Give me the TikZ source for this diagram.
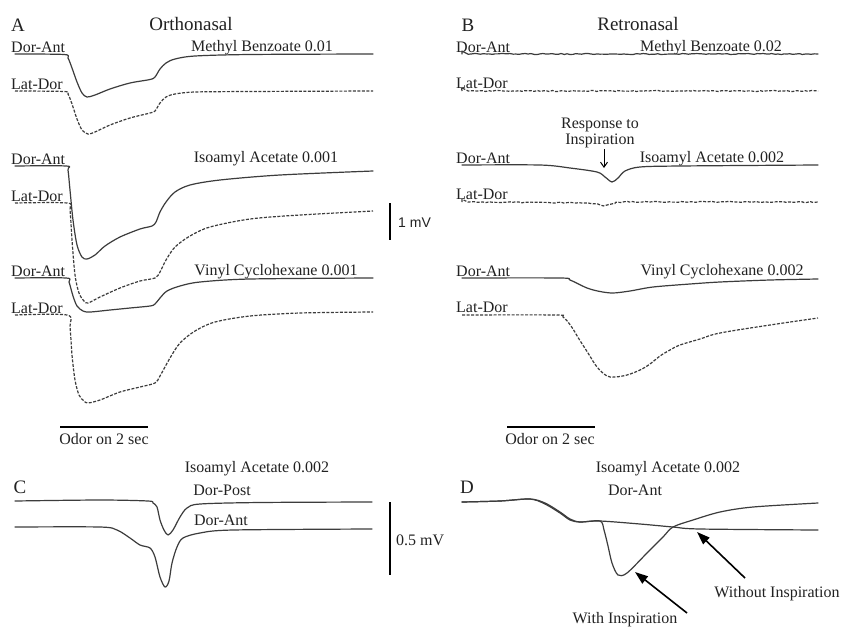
\documentclass[tikz,border=0pt]{standalone}
\usepackage{fontspec}
\setmainfont{Liberation Serif}
\setsansfont{Liberation Sans}
\usetikzlibrary{arrows.meta,decorations.pathmorphing}
\definecolor{tracegray}{HTML}{3C3C3C}
\definecolor{inkgray}{HTML}{222222}
\begin{document}
\begin{tikzpicture}[x=1pt,y=-1pt,
  trace/.style={draw=tracegray,line width=1.2pt,line join=round,line cap=round},
  dtrace/.style={draw=tracegray,line width=1.2pt,line join=round,dash pattern=on 3pt off 1.5pt},
  noisy/.style={decorate,decoration={random steps,segment length=3pt,amplitude=0.5pt}},
  lbl/.style={font=\fontsize{16}{18}\selectfont,text=inkgray,inner sep=0pt},
  ttl/.style={font=\fontsize{19}{22}\selectfont,text=inkgray,inner sep=0pt},
  sbar/.style={draw=black,line width=2pt},
  bigarrow/.style={draw=black,line width=1.6pt,-{Triangle[length=13pt,width=9pt]}},
  smallarrow/.style={draw=black,line width=1pt,-{Straight Barb[length=5pt,width=7pt]}}]
\pgfmathsetseed{7}
\useasboundingbox[fill=white] (0,0) rectangle (843,627);

% ---------- titles ----------
\node[ttl] (labA) at (18,25) {A};
\node[ttl] (titA) at (191,24) {Orthonasal};
\node[ttl] (labB) at (468,25) {B};
\node[ttl] (titB) at (638,24) {Retronasal};

% ---------- panel A labels ----------
\node[lbl,anchor=base west] (a1) at (11,52) {Dor-Ant};
\node[lbl,anchor=base west] (a2) at (11,89) {Lat-Dor};
\node[lbl,anchor=base west] (a3) at (11,164) {Dor-Ant};
\node[lbl,anchor=base west] (a4) at (11,201) {Lat-Dor};
\node[lbl,anchor=base west] (a5) at (11,276) {Dor-Ant};
\node[lbl,anchor=base west] (a6) at (11,313) {Lat-Dor};
\node[lbl,anchor=base] (oa1) at (262,51) {Methyl Benzoate 0.01};
\node[lbl,anchor=base] (oa2) at (266,162) {Isoamyl Acetate 0.001};
\node[lbl,anchor=base] (oa3) at (276,275) {Vinyl Cyclohexane 0.001};

% ---------- panel A traces ----------
\draw[trace] plot[smooth,tension=0.5] coordinates {(15,54) (64,54.5) (68,58) (72,68) (77,82) (82,93) (87,97) (95,95) (110,89) (130,83) (150,79.5) (155,77) (160,69) (166,63) (175,59) (195,56) (250,54.5) (373,54)};
\draw[dtrace] plot[smooth,tension=0.5] coordinates {(15,91) (64,91.5) (68,94) (72,104) (77,119) (82,130) (88,134) (95,132) (110,125) (130,118) (150,113) (155,111) (160,103) (166,97) (175,94) (195,92) (250,91.5) (373,91)};
\draw[trace] plot[smooth,tension=0.5] coordinates {(15,166) (66,166) (68,170) (70,190) (73,220) (77,245) (82,257) (87,259) (95,255) (105,246) (120,237) (140,229) (152,226) (156,222) (160,212) (166,202) (175,192) (190,185) (220,180) (280,175) (373,171)};
\draw[dtrace] plot[smooth,tension=0.5] coordinates {(15,203) (67,203) (70,210) (72,240) (75,275) (79,293) (84,301) (88,303) (100,297) (120,288) (140,281) (155,278) (160,272) (166,260) (175,247) (190,236) (210,227) (250,219) (300,215) (373,211)};
\draw[trace] plot[smooth,tension=0.5] coordinates {(15,278) (66,278) (69,282) (73,296) (77,306) (83,311) (90,312) (110,310) (130,308) (150,306) (155,304) (160,298) (167,291) (180,286) (200,282) (250,279) (373,278)};
\draw[dtrace] plot[smooth,tension=0.5] coordinates {(15,315) (67,315) (70,327) (72,355) (75,380) (79,395) (84,401) (88,403) (100,400) (120,392) (140,387) (155,383) (160,376) (170,358) (180,343) (195,331) (215,322) (250,316) (300,313) (373,312)};

% 1 mV scale bar
\coordinate (mvtop) at (390,203);
\coordinate (mvbot) at (390,240);
\draw[sbar] (mvtop) -- (mvbot);
\node[lbl,font=\sffamily\fontsize{14}{16}\selectfont,anchor=west] (mv1) at (398,223) {1 mV};

% odor bar A
\coordinate (odA1) at (60,427);
\coordinate (odA2) at (148,427);
\draw[draw=black,line width=2.2pt] (odA1) -- (odA2);
\node[lbl,anchor=base] (odAt) at (104,444) {Odor on 2 sec};

% ---------- panel B labels ----------
\node[lbl,anchor=base west] (b1) at (456,52) {Dor-Ant};
\node[lbl,anchor=base west] (b2) at (456,88) {Lat-Dor};
\node[lbl,anchor=base west] (b3) at (456,163) {Dor-Ant};
\node[lbl,anchor=base west] (b4) at (456,199) {Lat-Dor};
\node[lbl,anchor=base west] (b5) at (456,276) {Dor-Ant};
\node[lbl,anchor=base west] (b6) at (456,312) {Lat-Dor};
\node[lbl,anchor=base] (ob1) at (711,51) {Methyl Benzoate 0.02};
\node[lbl,anchor=base] (ob2) at (712,162) {Isoamyl Acetate 0.002};
\node[lbl,anchor=base] (ob3) at (722,275) {Vinyl Cyclohexane 0.002};
\node[lbl,anchor=base] (resp1) at (600,128) {Response to};
\node[lbl,anchor=base] (resp2) at (600,144) {Inspiration};
\coordinate (respfrom) at (604,149);
\coordinate (respto) at (604,168);
\draw[smallarrow] (respfrom) -- (respto);

% ---------- panel B traces ----------
\draw[trace,noisy] plot[smooth] coordinates {(462,54) (640,54) (818,54)};
\draw[dtrace,noisy] plot[smooth] coordinates {(462,91) (640,91) (818,91)};
\draw[trace] plot[smooth,tension=0.5] coordinates {(462,165) (540,165) (570,168) (597,172) (605,177) (612,182) (618,178) (625,171) (640,167) (680,166) (818,165)};
\draw[dtrace,noisy] plot[smooth,tension=0.5] coordinates {(462,202) (585,203) (600,206) (612,204) (630,202) (818,202)};
\draw[trace] plot[smooth,tension=0.5] coordinates {(462,278) (560,278) (570,280) (587,288) (600,291.5) (613,293) (630,291) (653,287) (690,284) (720,282) (770,280) (818,279)};
\draw[dtrace] plot[smooth,tension=0.6] coordinates {(462,315) (555,315) (563,317) (571,326) (579,339) (588,353) (597,367) (607,376) (615,377) (627,375) (640,370) (650,364) (660,356) (670,350) (680,345) (700,339) (720,333) (770,325) (818,318)};

% odor bar B
\coordinate (odB1) at (507,427);
\coordinate (odB2) at (595,427);
\draw[draw=black,line width=2.2pt] (odB1) -- (odB2);
\node[lbl,anchor=base] (odBt) at (550,444) {Odor on 2 sec};

% ---------- panel C ----------
\node[lbl,anchor=base] (cttl) at (257,472) {Isoamyl Acetate 0.002};
\node[ttl,anchor=base] (labC) at (20,493) {C};
\node[lbl,anchor=base] (cpost) at (222,495) {Dor-Post};
\node[lbl,anchor=base] (cant) at (221,525) {Dor-Ant};
\draw[trace] plot[smooth,tension=0.5] coordinates {(15,501) (100,500) (148,501) (153,503) (157,507) (160,520) (164,530) (168,535) (173,530) (180,517) (187,508) (200,504) (260,502.5) (372,502)};
\draw[trace] plot[smooth,tension=0.5] coordinates {(15,527) (100,527) (117,530) (130,538) (140,545) (150,548) (155,557) (160,577) (165,587) (169,581) (172,563) (177,547) (183,538) (200,533) (233,530) (372,529)};
\coordinate (hmvtop) at (390,502);
\coordinate (hmvbot) at (390,575);
\draw[sbar] (hmvtop) -- (hmvbot);
\node[lbl,anchor=west] (mv2) at (396,540) {0.5 mV};

% ---------- panel D ----------
\node[lbl,anchor=base] (dttl) at (668,472) {Isoamyl Acetate 0.002};
\node[ttl,anchor=base] (labD) at (467,493) {D};
\node[lbl,anchor=base] (dant) at (635,495) {Dor-Ant};
\draw[trace] plot[smooth,tension=0.5] coordinates {(462,502) (500,501) (530,499) (545,503) (560,512) (570,519) (580,522) (600,521) (604,530) (608,546) (612,563) (618,575) (627,573) (647,553) (663,537) (673,527) (693,520) (720,512) (753,507) (818,503)};
\draw[trace] plot[smooth,tension=0.5] coordinates {(462,502) (500,501) (530,499) (545,504) (560,513) (570,520) (580,522) (600,521) (640,524) (673,527) (700,529) (818,530)};
\node[lbl,anchor=base] (without) at (777,597) {Without Inspiration};
\node[lbl,anchor=base] (with) at (625,623) {With Inspiration};
\coordinate (wotail) at (745,578);
\coordinate (wotip) at (697,532);
\coordinate (wtail) at (687,613);
\coordinate (wtip) at (635,572);
\draw[bigarrow] (wotail) -- (wotip);
\draw[bigarrow] (wtail) -- (wtip);
\end{tikzpicture}
\end{document}
